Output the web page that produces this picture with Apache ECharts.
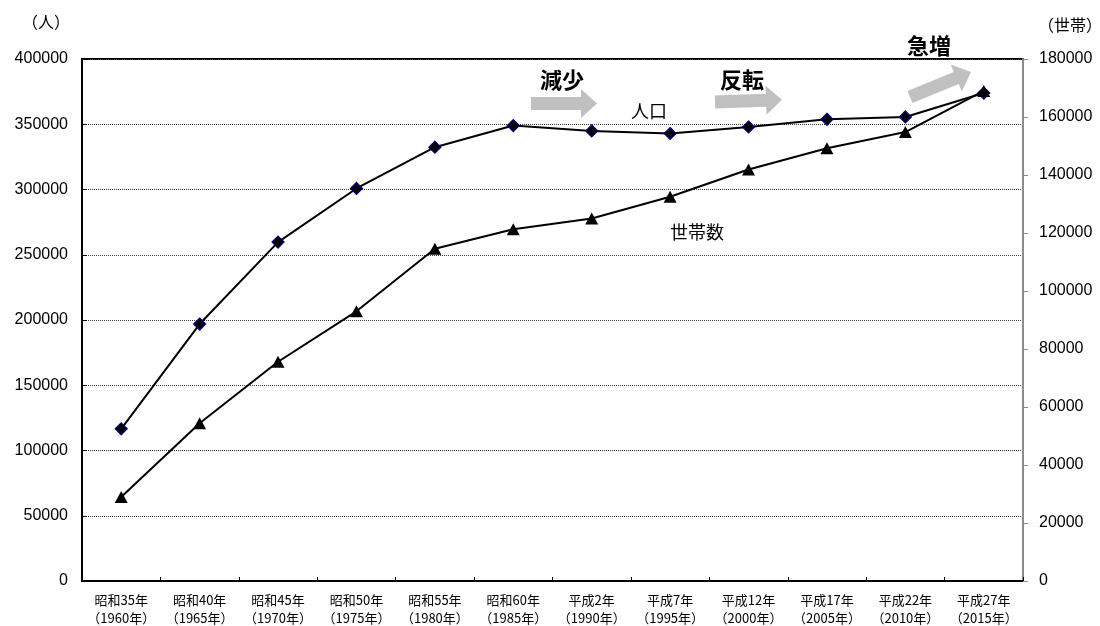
<!DOCTYPE html>
<html>
<head>
<meta charset="utf-8">
<script src="https://cdn.jsdelivr.net/npm/echarts@6/dist/echarts.min.js"></script>
<style>
  html, body { margin: 0; padding: 0; background: #fff; }
  #chart { width: 1100px; height: 626px; }
</style>
</head>
<body>
<div id="chart"></div>
<script>
// Census years (Japanese era name + western year)
const eraLabels = ['昭和35年', '昭和40年', '昭和45年', '昭和50年', '昭和55年', '昭和60年',
                   '平成2年', '平成7年', '平成12年', '平成17年', '平成22年', '平成27年'];
const yearLabels = ['1960年', '1965年', '1970年', '1975年', '1980年', '1985年',
                    '1990年', '1995年', '2000年', '2005年', '2010年', '2015年'];

// 人口 (left axis, persons)
const population = [116600, 196900, 259700, 300800, 332400, 349000,
                    344900, 342900, 347900, 353800, 355600, 373900];
// 世帯数 (right axis, households)
const households = [29000, 54400, 75600, 93000, 114600, 121300,
                    125000, 132500, 141900, 149200, 154800, 169000];

// Axis ranges / tick steps
const popAxisMax = 400000, popAxisStep = 50000;
const hhAxisMax = 180000, hhAxisStep = 20000;

const categories = eraLabels.map((e, i) => e + '\n（' + yearLabels[i] + '）');

const JP = '"Noto Sans CJK JP", "Noto Sans", sans-serif';
const NUM = '"Liberation Sans", Arial, sans-serif';
const ARROW_GRAY = '#c0c0c0';

// Block arrow pointing along +x from its tail centre
function blockArrow(x, y, len, rotation) {
  const bh = 6.5, hh = 14.5, hl = 16;
  return {
    type: 'polygon',
    x: x, y: y, rotation: rotation || 0,
    shape: { points: [[0, -bh], [len - hl, -bh], [len - hl, -hh], [len, 0],
                      [len - hl, hh], [len - hl, bh], [0, bh]] },
    style: { fill: ARROW_GRAY },
    z: 5
  };
}
function label(text, x, y, size, bold) {
  return {
    type: 'text', x: x, y: y, z: 10,
    style: {
      text: text, fill: '#000',
      font: (bold ? 'bold ' : '') + size + 'px ' + JP,
      textAlign: 'center', textVerticalAlign: 'middle'
    }
  };
}
const plain = v => String(v);

const chart = echarts.init(document.getElementById('chart'));
chart.setOption({
  backgroundColor: '#fff',
  animation: false,
  grid: {
    left: 82, right: 77, top: 59, bottom: 45,
    containLabel: false, outerBoundsMode: 'none',
    show: true, borderColor: '#000', borderWidth: 2, backgroundColor: 'transparent'
  },
  xAxis: {
    type: 'category',
    data: categories,
    boundaryGap: true,
    axisLine: { lineStyle: { color: '#000', width: 2 } },
    axisTick: { show: true, inside: true, length: 4, lineStyle: { color: '#000', width: 1 } },
    axisLabel: {
      color: '#000', fontSize: 13, fontFamily: JP, lineHeight: 18,
      margin: 10, interval: 0
    },
    splitLine: { show: false }
  },
  yAxis: [
    {
      type: 'value', min: 0, max: popAxisMax, interval: popAxisStep,
      position: 'left',
      axisLine: { show: true, lineStyle: { color: '#000', width: 2 } },
      axisTick: { show: true, inside: true, length: 5, lineStyle: { color: '#000', width: 1 } },
      axisLabel: { color: '#000', fontSize: 16, fontFamily: NUM, margin: 14, formatter: plain },
      splitLine: { show: true, lineStyle: { color: '#3a3a3a', width: 1, type: [1, 1] } }
    },
    {
      type: 'value', min: 0, max: hhAxisMax, interval: hhAxisStep,
      position: 'right',
      axisLine: { show: true, lineStyle: { color: '#8c8c8c', width: 2 } },
      axisTick: { show: true, inside: false, length: 5, lineStyle: { color: '#8c8c8c', width: 1 } },
      axisLabel: { color: '#000', fontSize: 16, fontFamily: NUM, margin: 16, formatter: plain },
      splitLine: { show: false }
    }
  ],
  series: [
    {
      name: '人口', type: 'line', yAxisIndex: 0,
      data: population,
      symbol: 'diamond', symbolSize: 12,
      lineStyle: { color: '#000', width: 2 },
      itemStyle: { color: '#000', borderColor: '#000080', borderWidth: 1.2 },
      z: 3
    },
    {
      name: '世帯数', type: 'line', yAxisIndex: 1,
      data: households,
      symbol: 'triangle', symbolSize: [13, 12],
      lineStyle: { color: '#000', width: 2 },
      itemStyle: { color: '#000', borderColor: '#000', borderWidth: 0 },
      z: 4
    }
  ],
  graphic: [
    // axis units
    label('（人）', 46, 22, 16, false),
    label('（世帯）', 1070, 25, 16, false),
    // series names
    label('人口', 649, 111, 18, false),
    label('世帯数', 697, 232, 18, false),
    // trend annotations
    label('減少', 562, 80, 22, true),
    label('反転', 742, 80, 22, true),
    label('急増', 929, 46, 22, true),
    blockArrow(531, 103.5, 66, 0),
    blockArrow(715, 102, 67, 0.035),
    blockArrow(910, 97, 66, 0.39)
  ]
});
</script>
</body>
</html>
